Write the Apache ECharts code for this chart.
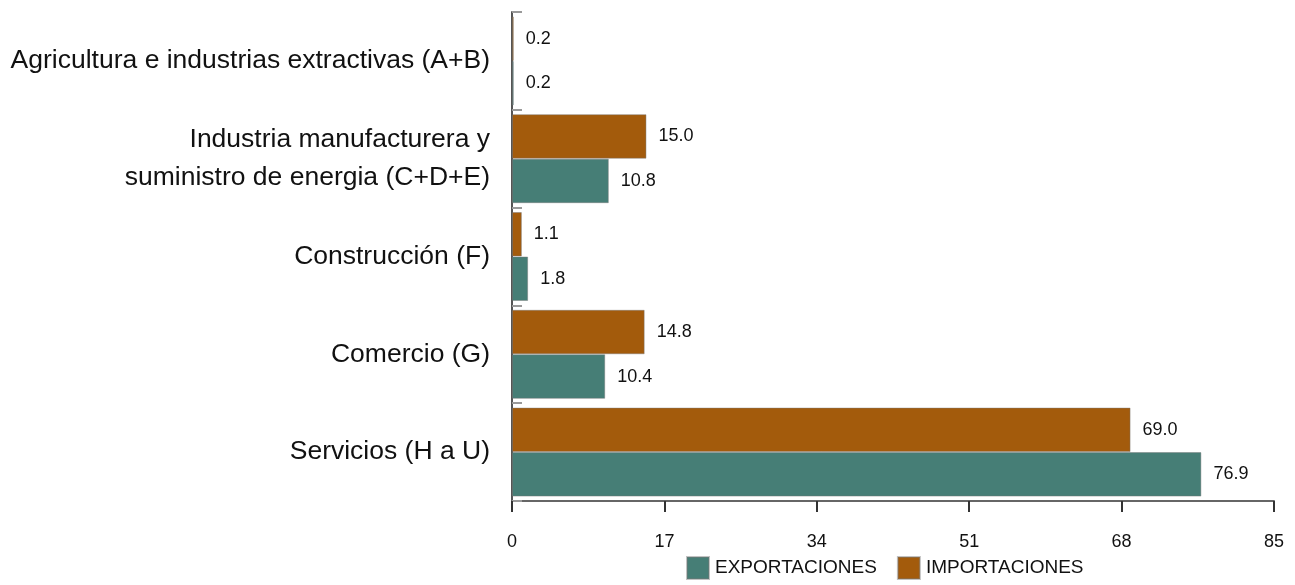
<!DOCTYPE html>
<html><head><meta charset="utf-8">
<script src="https://cdn.jsdelivr.net/npm/echarts@6/dist/echarts.min.js"></script>
<style>html,body{margin:0;padding:0;background:#fff}#c{width:1295px;height:585px}</style>
</head><body><div id="c"></div>
<script>
const categories = [
  "Agricultura e industrias extractivas (A+B)",
  "Industria manufacturera y\nsuministro de energia (C+D+E)",
  "Construcción (F)",
  "Comercio (G)",
  "Servicios (H a U)"
];
const exportaciones = [0.2, 10.8, 1.8, 10.4, 76.9];
const importaciones = [0.2, 15.0, 1.1, 14.8, 69.0];
const xTicks = [0, 17, 34, 51, 68, 85];

const chart = echarts.init(document.getElementById('c'));
const font = 'Liberation Sans, Arial, sans-serif';
const lbl = {show:true, position:'right', distance:12, fontSize:18, color:'#111', fontFamily:font, formatter: p => p.value.toFixed(1)};
chart.setOption({
  animation:false,
  grid:{left:512, right:21, top:12, bottom:84, containLabel:false},
  legend:{
    bottom:0, left:681, itemWidth:22, itemHeight:22, itemGap:20,
    textStyle:{fontSize:19, color:'#111', fontFamily:font, padding:[0,0,0,1]},
    data:[{name:'EXPORTACIONES', icon:'rect'},{name:'IMPORTACIONES', icon:'rect'}]
  },
  xAxis:{
    type:'value', min:0, max:85, interval:17,
    axisLine:{show:true, lineStyle:{color:'#666', width:2}},
    axisTick:{show:true, length:11, lineStyle:{color:'#333', width:2}},
    axisLabel:{margin:32, fontSize:18, color:'#111', fontFamily:font,
      formatter: v => xTicks.includes(v) ? String(v) : ''},
    splitLine:{show:false}
  },
  yAxis:{
    type:'category', data:categories, inverse:true,
    axisLine:{show:true, lineStyle:{color:'#555', width:2}},
    axisTick:{show:true, inside:true, length:10, lineStyle:{color:'#999', width:2}},
    axisLabel:{margin:22, fontSize:26.5, color:'#111', fontFamily:font, lineHeight:38, align:'right'}
  },
  series:[
    {name:'IMPORTACIONES', type:'bar', data:importaciones, barGap:'0%', barCategoryGap:'9%',
      itemStyle:{color:'#A35B0C', borderColor:'rgba(120,120,120,0.45)', borderWidth:1}, label:lbl},
    {name:'EXPORTACIONES', type:'bar', data:exportaciones, barGap:'0%', barCategoryGap:'9%',
      itemStyle:{color:'#467E76', borderColor:'rgba(120,120,120,0.45)', borderWidth:1}, label:lbl}
  ]
});
</script></body></html>
